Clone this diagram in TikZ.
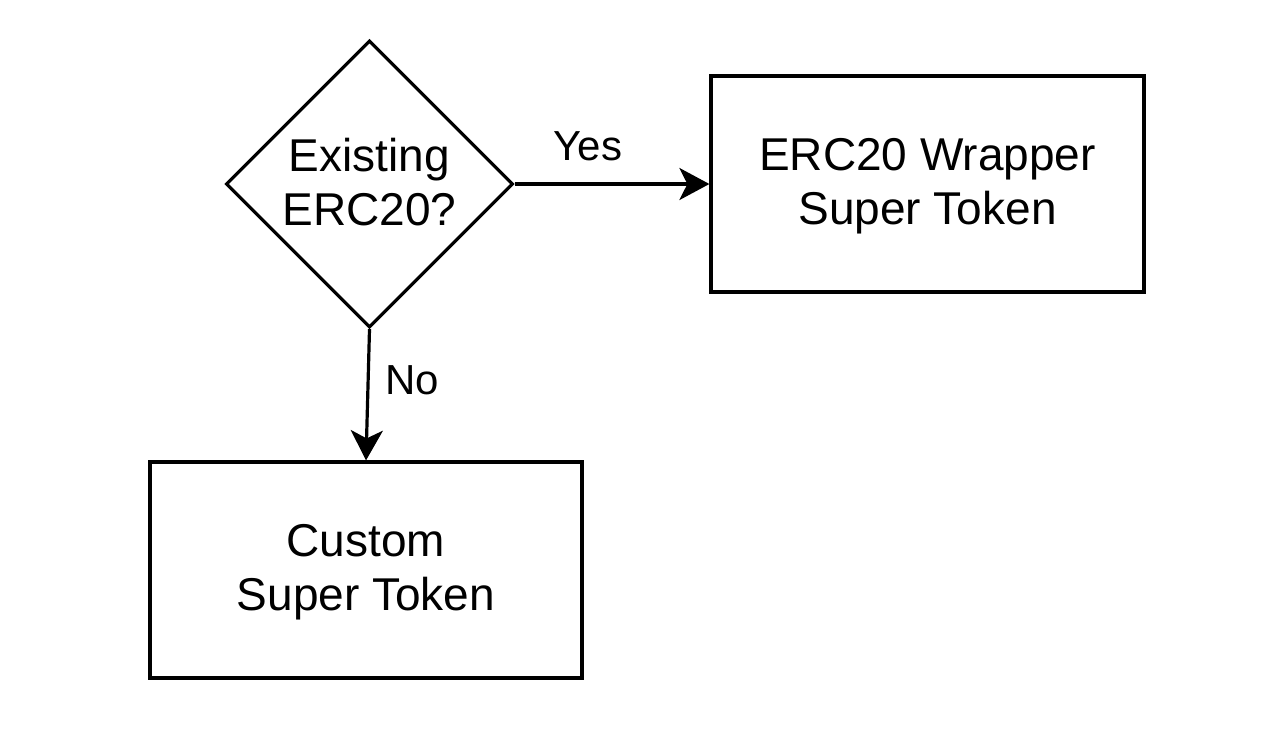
\documentclass[tikz,border=0pt]{standalone}
\usepackage{fontspec}
\setmainfont{Liberation Sans}
\usetikzlibrary{shapes.geometric,arrows.meta}

\begin{document}
\begin{tikzpicture}[x=1pt,y=-1pt,
    every node/.style={font=\fontsize{46}{54}\selectfont},
    tokenbox/.style={draw,line width=3.2pt,minimum width=433pt,minimum height=216pt,
        inner sep=0pt,align=center,text depth=5pt},
    choice/.style={draw,diamond,aspect=1,line width=3.2pt,minimum width=287pt,
        minimum height=287pt,inner sep=0pt,align=center,text depth=5pt},
    flow/.style={-{Stealth[length=30pt,width=32pt,inset=8pt]},line width=3.2pt},
    answer/.style={font=\fontsize{42}{50}\selectfont,anchor=base}]
    \useasboundingbox (0,0) rectangle (1277,732);
    % decision and the two outcomes
    \node[choice] (existing) at (369.5,184) {Existing\\ERC20?};
    \node[tokenbox] (wrapper) at (927.5,184) {ERC20 Wrapper\\Super Token};
    \node[tokenbox,minimum width=432pt] (custom) at (366,570) {Custom\\Super Token};
    % answers
    \draw[flow] (existing.east) -- (wrapper.west);
    \draw[flow] (existing.south) -- (custom.north);
    \node[answer] (yes) at (588,160) {Yes};
    \node[answer] (no) at (412,394) {No};
\end{tikzpicture}
\end{document}
